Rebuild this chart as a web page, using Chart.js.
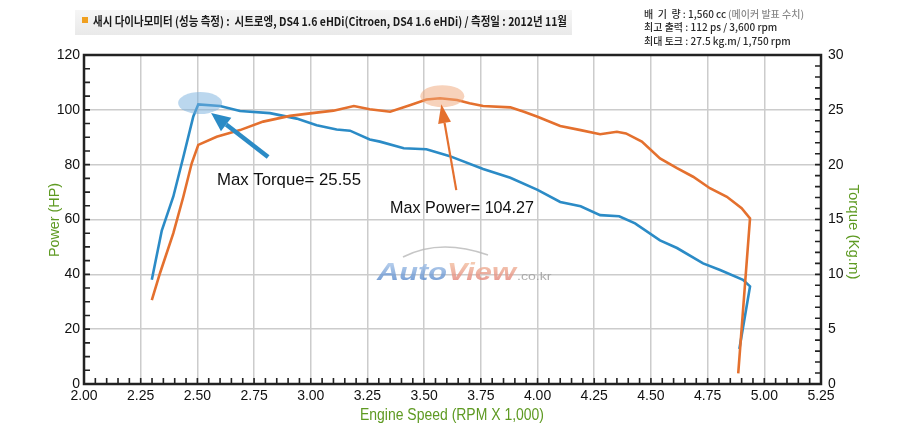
<!DOCTYPE html>
<html>
<head>
<meta charset="utf-8">
<script src="https://cdn.jsdelivr.net/npm/chart.js@4.4.0/dist/chart.umd.min.js"></script>
<style>
  html, body { margin: 0; padding: 0; background: #fff; }
  #wrap { width: 900px; height: 436px; position: relative; }
</style>
</head>
<body>
<div id="wrap"><canvas id="dyno"></canvas></div>
<script>
/* ── Data ── */
const powerRpm = [2.299, 2.335, 2.394, 2.438, 2.475, 2.504, 2.585, 2.688, 2.79, 2.908, 2.997, 3.10, 3.19, 3.26, 3.35, 3.44, 3.51, 3.57, 3.645, 3.70, 3.76, 3.88, 3.94, 4.00, 4.10, 4.19, 4.276, 4.35, 4.39, 4.46, 4.54, 4.615, 4.686, 4.76, 4.835, 4.90, 4.937, 4.885];
const powerHp  = [30.6, 40.4, 55.0, 68.3, 80.5, 87.2, 90.2, 92.6, 95.7, 97.8, 98.7, 99.7, 101.4, 100.2, 99.3, 101.8, 103.8, 104.2, 103.6, 102.4, 101.4, 100.9, 99.3, 97.5, 94.1, 92.6, 91.1, 92.0, 91.4, 88.4, 82.3, 78.7, 75.6, 71.4, 68.3, 64.1, 60.4, 3.9];

const torqueRpm = [2.299, 2.343, 2.394, 2.438, 2.482, 2.504, 2.60, 2.688, 2.82, 2.938, 3.026, 3.114, 3.173, 3.26, 3.305, 3.41, 3.51, 3.61, 3.76, 3.88, 4.00, 4.10, 4.19, 4.276, 4.36, 4.43, 4.54, 4.615, 4.73, 4.805, 4.906, 4.937, 4.89];
const torqueKgm = [9.5, 14.0, 17.1, 20.7, 24.4, 25.5, 25.35, 24.9, 24.7, 24.2, 23.6, 23.2, 23.1, 22.3, 22.1, 21.5, 21.4, 20.8, 19.6, 18.8, 17.7, 16.6, 16.2, 15.4, 15.3, 14.65, 13.1, 12.4, 11.0, 10.4, 9.5, 8.9, 3.2];

const maxTorque = { rpm: 2.512, hp: 102.5, label: 'Max Torque= 25.55' };
const maxPower  = { rpm: 3.58, hp: 105.0, label: 'Max Power= 104.27' };

const ORANGE = '#e4702e';
const BLUE   = '#2b8bc6';
const GREEN  = '#5e9a22';
const FONT   = '"Liberation Sans", Arial, sans-serif';
const KFONT  = '"Noto Sans CJK KR", sans-serif';

const toXY = (xs, ys) => xs.map((x, i) => ({ x, y: ys[i] }));

/* ── Helpers ── */
function arrow(ctx, x1, y1, x2, y2, color, shaft, headLen, headW) {
  const a = Math.atan2(y2 - y1, x2 - x1);
  const bx = x2 - Math.cos(a) * headLen, by = y2 - Math.sin(a) * headLen;
  ctx.save();
  ctx.strokeStyle = color; ctx.fillStyle = color;
  ctx.lineWidth = shaft; ctx.lineCap = 'butt';
  ctx.beginPath(); ctx.moveTo(x1, y1); ctx.lineTo(bx, by); ctx.stroke();
  ctx.beginPath();
  ctx.moveTo(x2, y2);
  ctx.lineTo(bx + Math.sin(a) * headW / 2, by - Math.cos(a) * headW / 2);
  ctx.lineTo(bx - Math.sin(a) * headW / 2, by + Math.cos(a) * headW / 2);
  ctx.closePath(); ctx.fill();
  ctx.restore();
}

function ellipse(ctx, cx, cy, rx, ry, fill) {
  ctx.save();
  ctx.fillStyle = fill;
  ctx.beginPath(); ctx.ellipse(cx, cy, rx, ry, 0, 0, Math.PI * 2); ctx.fill();
  ctx.restore();
}

/* ── Decorations plugin ── */
const decor = {
  id: 'decor',
  beforeDraw(chart) {
    const ctx = chart.ctx;
    ctx.save();
    ctx.fillStyle = '#fff';
    ctx.fillRect(0, 0, chart.width, chart.height);
    ctx.restore();
  },
  beforeDatasetsDraw(chart) {
    // watermark
    const ctx = chart.ctx;
    ctx.save();
    ctx.globalAlpha = 0.8;
    ctx.strokeStyle = '#b8b8b8'; ctx.lineWidth = 1.6;
    ctx.beginPath(); ctx.moveTo(403, 257); ctx.quadraticCurveTo(440, 238, 488, 255); ctx.stroke();
    ctx.textBaseline = 'alphabetic';
    ctx.font = 'italic bold 24px ' + FONT;
    ctx.translate(377, 280);
    ctx.scale(1.28, 1);
    const ga = ctx.createLinearGradient(0, -18, 0, 0);
    ga.addColorStop(0, '#a9c6ea'); ga.addColorStop(1, '#5b8bcc');
    ctx.fillStyle = ga;
    ctx.fillText('Auto', 0, 0);
    const wA = ctx.measureText('Auto').width;
    const gv = ctx.createLinearGradient(0, -18, 0, 0);
    gv.addColorStop(0, '#f3c0a0'); gv.addColorStop(1, '#e3857a');
    ctx.fillStyle = gv;
    ctx.fillText('View', wA, 0);
    const wV = ctx.measureText('View').width;
    ctx.font = '11px ' + FONT;
    ctx.fillStyle = '#9a9a9a';
    ctx.fillText('.co.kr', wA + wV + 1, 0);
    ctx.restore();
  },
  afterDatasetsDraw(chart) {
    const ctx = chart.ctx;
    const { left, right, top, bottom } = chart.chartArea;
    const sx = chart.scales.x, sy = chart.scales.y, sy2 = chart.scales.y2;

    // frame
    ctx.save();
    ctx.strokeStyle = '#222'; ctx.lineWidth = 2.5;
    ctx.strokeRect(left, top, right - left, bottom - top);

    // inner minor ticks
    ctx.lineWidth = 1.6;
    ctx.beginPath();
    for (let v = 2.05; v < 5.25; v += 0.05) {
      const p = sx.getPixelForValue(v);
      ctx.moveTo(p, bottom); ctx.lineTo(p, bottom - 6);
    }
    for (let v = 5; v < 120; v += 5) {
      const p = sy.getPixelForValue(v);
      ctx.moveTo(left, p); ctx.lineTo(left + 6, p);
    }
    for (let v = 1; v < 30; v += 1) {
      const p = sy2.getPixelForValue(v);
      ctx.moveTo(right, p); ctx.lineTo(right - 6, p);
    }
    ctx.stroke();
    ctx.restore();

    // highlight ellipses
    const tX = sx.getPixelForValue(maxTorque.rpm), tY = sy.getPixelForValue(maxTorque.hp);
    const pX = sx.getPixelForValue(maxPower.rpm), pY = sy.getPixelForValue(maxPower.hp);
    ellipse(ctx, tX, tY, 22, 11, 'rgba(120,176,222,0.5)');
    ellipse(ctx, pX, pY, 22, 11, 'rgba(240,165,120,0.5)');

    // arrows
    arrow(ctx, tX + 68, tY + 54, tX + 11, tY + 10, BLUE, 4.5, 19, 17);
    arrow(ctx, pX + 14, pY + 94, pX - 1, pY + 8, ORANGE, 2.2, 19, 13);

    // callout labels
    ctx.save();
    ctx.fillStyle = '#111';
    ctx.font = '17px ' + FONT;
    ctx.textBaseline = 'middle';
    ctx.textAlign = 'left';
    ctx.fillText(maxTorque.label, 217, 180, 144);
    ctx.fillText(maxPower.label, 390, 208, 144);
    ctx.restore();

    // axis titles
    ctx.save();
    ctx.fillStyle = GREEN;
    ctx.textAlign = 'center'; ctx.textBaseline = 'middle';
    ctx.font = '16px ' + FONT;
    ctx.fillText('Engine Speed (RPM X 1,000)', 452, 416, 184);
    ctx.font = '15px ' + FONT;
    ctx.save();
    ctx.translate(55, 220); ctx.rotate(-Math.PI / 2);
    ctx.fillText('Power (HP)', 0, 0, 74);
    ctx.restore();
    ctx.save();
    ctx.translate(853, 232); ctx.rotate(Math.PI / 2);
    ctx.fillText('Torque (Kg.m)', 0, 0, 108);
    ctx.restore();
    ctx.restore();

    // header
    ctx.save();
    const g = ctx.createLinearGradient(0, 10, 0, 35);
    g.addColorStop(0, '#f6f6f6'); g.addColorStop(1, '#e9e9e9');
    ctx.fillStyle = g;
    ctx.fillRect(75, 10, 497, 25);
    ctx.fillStyle = '#f0a020';
    ctx.fillRect(82, 17, 6, 6);
    ctx.fillStyle = '#1a1a1a';
    ctx.font = 'bold 12px ' + KFONT;
    ctx.textBaseline = 'middle';
    ctx.fillText('새시 다이나모미터 (성능 측정) :  시트로엥, DS4 1.6 eHDi(Citroen, DS4 1.6 eHDi) / 측정일 : 2012년 11월', 93, 21, 474);

    ctx.font = '500 10px ' + KFONT;
    ctx.fillStyle = '#2a2a2a';
    ctx.fillText('배  기  량 : 1,560 cc', 644, 14);
    ctx.fillText('최고 출력 : 112 ps / 3,600 rpm', 644, 27);
    ctx.fillText('최대 토크 : 27.5 kg.m/ 1,750 rpm', 644, 41);
    ctx.fillStyle = '#888';
    ctx.fillText('(메이커 발표 수치)', 728, 14);
    ctx.restore();
  }
};

/* ── Chart ── */
new Chart(document.getElementById('dyno'), {
  type: 'line',
  data: {
    datasets: [
      { label: 'Power', data: toXY(powerRpm, powerHp), yAxisID: 'y', borderColor: ORANGE, borderWidth: 2.6, pointRadius: 0, tension: 0, order: 0 },
      { label: 'Torque', data: toXY(torqueRpm, torqueKgm), yAxisID: 'y2', borderColor: BLUE, borderWidth: 2.6, pointRadius: 0, tension: 0, order: 1 }
    ]
  },
  options: {
    responsive: true,
    maintainAspectRatio: false,
    animation: false,
    layout: { padding: { top: 55, left: 0, right: 0, bottom: 0 } },
    plugins: { legend: { display: false }, tooltip: { enabled: false } },
    scales: {
      x: {
        type: 'linear', min: 2, max: 5.25,
        ticks: { stepSize: 0.25, color: '#111', font: { size: 14, family: FONT }, padding: 4, maxRotation: 0, callback: v => v.toFixed(2) },
        grid: { color: '#cccccc', lineWidth: 1.5, drawTicks: false },
        border: { display: false },
        afterFit: s => { s.height = 52; }
      },
      y: {
        position: 'left', min: 0, max: 120,
        ticks: { stepSize: 20, color: '#111', font: { size: 14, family: FONT }, padding: 4 },
        grid: { color: '#cccccc', lineWidth: 1.5, drawTicks: false },
        border: { display: false },
        afterFit: s => { s.width = 84; }
      },
      y2: {
        position: 'right', min: 0, max: 30,
        ticks: { stepSize: 5, color: '#111', font: { size: 14, family: FONT }, padding: 7 },
        grid: { display: false, drawTicks: false },
        border: { display: false },
        afterFit: s => { s.width = 79; }
      }
    }
  },
  plugins: [decor]
});
</script>
</body>
</html>
